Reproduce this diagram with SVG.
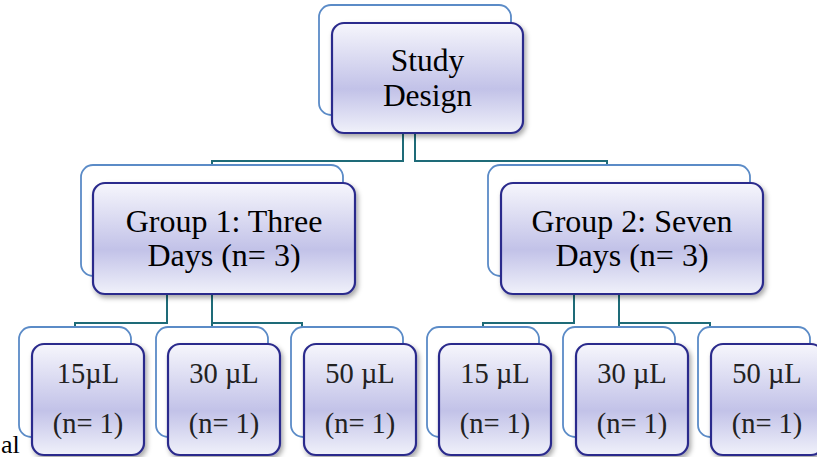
<svg xmlns="http://www.w3.org/2000/svg" width="817" height="457" viewBox="0 0 817 457">
<defs>
<linearGradient id="fg" x1="0" y1="0" x2="0" y2="1">
<stop offset="0" stop-color="#f6f6fc"/>
<stop offset="0.6" stop-color="#c2c2e8"/>
<stop offset="1" stop-color="#f0f1fa"/>
</linearGradient>
<filter id="sh" x="-10%" y="-10%" width="125%" height="130%">
<feDropShadow dx="2" dy="3" stdDeviation="2.5" flood-color="#000" flood-opacity="0.35"/>
</filter>
</defs>
<style>
.back{fill:#fff;stroke:#5b8bc7;stroke-width:1.8}
.front{fill:url(#fg);stroke:#2b2b8c;stroke-width:2.2;filter:url(#sh)}
text{font-family:'Liberation Serif','Times New Roman','DejaVu Serif',serif}
.t{font-size:32px;fill:#000;text-anchor:middle}
.d{font-size:31.5px;fill:#000;text-anchor:middle}
.s{font-size:28.5px;fill:#222;text-anchor:middle}
.c{fill:none;stroke:#1e6b78;stroke-width:2}
</style>
<g id="connectors">
<path class="c" d="M403,133 V161 H212 V165"/>
<path class="c" d="M415,133 V161 H607 V165"/>
<path class="c" d="M167,294 V323 H75 V327"/>
<path class="c" d="M212,294 V327"/>
<path class="c" d="M212,323 H302 V327"/>
<path class="c" d="M574,294 V323 H483 V327"/>
<path class="c" d="M619,294 V327"/>
<path class="c" d="M619,323 H710 V327"/>
</g>
<g id="study">
<rect class="back" x="319" y="5" width="192" height="110" rx="12"/>
<rect class="front" x="332" y="23" width="191" height="110" rx="12"/>
<text class="d" x="427.5" y="71">Study</text>
<text class="d" x="427.5" y="106">Design</text>
</g>
<g id="group1">
<rect class="back" x="81" y="165" width="262" height="111" rx="12"/>
<rect class="front" x="93" y="183" width="262" height="111" rx="12"/>
<text class="t" x="224" y="232">Group 1: Three</text>
<text class="t" x="224" y="266">Days (n= 3)</text>
</g>
<g id="group2">
<rect class="back" x="488" y="165" width="262" height="111" rx="12"/>
<rect class="front" x="501" y="183" width="262" height="111" rx="12"/>
<text class="t" x="632" y="232">Group 2: Seven</text>
<text class="t" x="632" y="266">Days (n= 3)</text>
</g>
<g id="leaf1">
<rect class="back" x="19" y="327" width="112" height="110" rx="12"/>
<rect class="front" x="32" y="344" width="112" height="111" rx="12"/>
<text class="s" x="88" y="383">15µL</text>
<text class="s" x="88" y="433">(n= 1)</text>
</g>
<g id="leaf2">
<rect class="back" x="156" y="327" width="112" height="110" rx="12"/>
<rect class="front" x="168" y="344" width="112" height="111" rx="12"/>
<text class="s" x="224" y="383">30 µL</text>
<text class="s" x="224" y="433">(n= 1)</text>
</g>
<g id="leaf3">
<rect class="back" x="291" y="327" width="112" height="110" rx="12"/>
<rect class="front" x="304" y="344" width="112" height="111" rx="12"/>
<text class="s" x="360" y="383">50 µL</text>
<text class="s" x="360" y="433">(n= 1)</text>
</g>
<g id="leaf4">
<rect class="back" x="427" y="327" width="112" height="110" rx="12"/>
<rect class="front" x="439" y="344" width="112" height="111" rx="12"/>
<text class="s" x="495" y="383">15 µL</text>
<text class="s" x="495" y="433">(n= 1)</text>
</g>
<g id="leaf5">
<rect class="back" x="563" y="327" width="112" height="110" rx="12"/>
<rect class="front" x="576" y="344" width="112" height="111" rx="12"/>
<text class="s" x="632" y="383">30 µL</text>
<text class="s" x="632" y="433">(n= 1)</text>
</g>
<g id="leaf6">
<rect class="back" x="698" y="327" width="112" height="110" rx="12"/>
<rect class="front" x="711" y="344" width="112" height="111" rx="12"/>
<text class="s" x="767" y="383">50 µL</text>
<text class="s" x="767" y="433">(n= 1)</text>
</g>
<text x="1" y="453" font-size="26" fill="#000">al</text>
</svg>
